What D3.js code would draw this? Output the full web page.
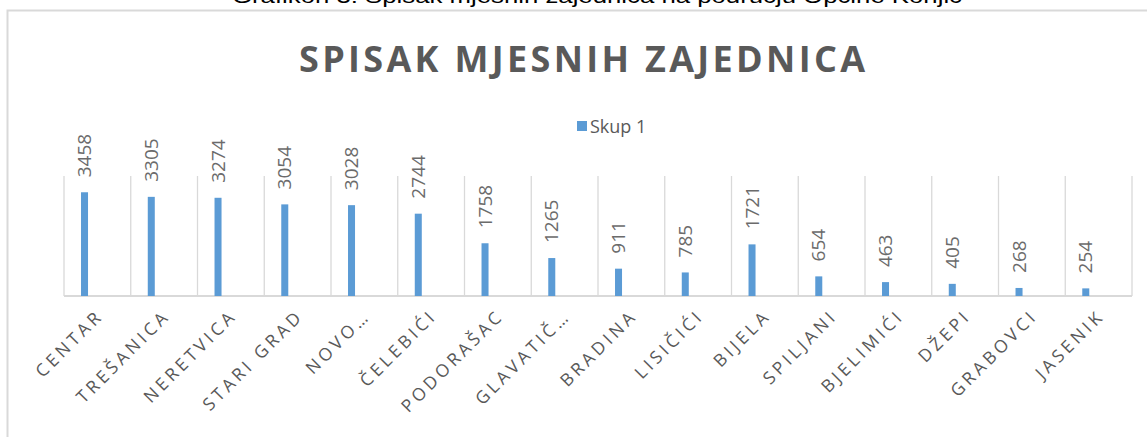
<!DOCTYPE html>
<html>
<head>
<meta charset="utf-8">
<script src="https://cdnjs.cloudflare.com/ajax/libs/d3/7.8.5/d3.min.js"></script>
<style>
  body { margin: 0; background: #fff; }
  svg { display: block; font-family: "Open Sans", sans-serif; }
  .grid { stroke: #d9d9d9; stroke-width: 1.3px; }
  .val { fill: #6b6b6b; font-size: 19px; }
  .cat { fill: #595959; font-size: 17.5px; letter-spacing: 3.6px; }
</style>
</head>
<body>
<script>
// categories (as shown on the axis) and values
var categories = ["CENTAR", "TREŠANICA", "NERETVICA", "STARI GRAD", "NOVO…", "ČELEBIĆI",
                  "PODORAŠAC", "GLAVATIČ…", "BRADINA", "LISIČIĆI", "BIJELA", "SPILJANI",
                  "BJELIMIĆI", "DŽEPI", "GRABOVCI", "JASENIK"];
var skup1 = [3458, 3305, 3274, 3054, 3028, 2744, 1758, 1265, 911, 785, 1721, 654, 463, 405, 268, 254];
var seriesName = "Skup 1";
var yDomain = [0, 4000];

var W = 1147, H = 437;
var svg = d3.select("body").append("svg").attr("width", W).attr("height", H);

// caption above chart (cut off at the top, as in the source)
svg.append("text")
  .attr("x", 597).attr("y", 3)
  .attr("text-anchor", "middle")
  .attr("textLength", 730).attr("lengthAdjust", "spacingAndGlyphs")
  .style("font-family", "'Liberation Sans', sans-serif")
  .style("font-size", "20px").style("fill", "#000")
  .text("Grafikon 3: Spisak mjesnih zajednica na području Općine Konjic");

// chart frame
svg.append("path")
  .attr("d", "M7.5," + H + "V10.5H" + W)
  .attr("fill", "none").attr("stroke", "#d9d9d9").attr("stroke-width", 2);

// title
svg.append("text")
  .attr("x", 582).attr("y", 72)
  .attr("text-anchor", "middle")
  .attr("textLength", 566).attr("lengthAdjust", "spacing")
  .style("font-size", "36px").style("font-weight", "bold").style("fill", "#595959")
  .text("SPISAK MJESNIH ZAJEDNICA");

// legend
var leg = svg.append("g").attr("transform", "translate(577,121)");
leg.append("rect").attr("width", 10).attr("height", 10).attr("fill", "#5b9bd5");
leg.append("text").attr("x", 13).attr("y", 12)
  .style("font-size", "18px").style("fill", "#595959").text(seriesName);

var x = d3.scaleBand().domain(categories).range([64, 1132]);
var y = d3.scaleLinear().domain(yDomain).range([296, 176]);
var bw = x.bandwidth();

// vertical gridlines between categories
var edges = categories.map(function(c) { return x(c); }).concat([x.range()[1]]);
svg.selectAll(".vgrid").data(edges).enter().append("line")
  .attr("class", "grid")
  .attr("x1", function(d) { return d; }).attr("x2", function(d) { return d; })
  .attr("y1", y(yDomain[1])).attr("y2", y(0));

// baseline
svg.append("line").attr("class", "grid")
  .attr("x1", x.range()[0]).attr("x2", x.range()[1])
  .attr("y1", y(0)).attr("y2", y(0)).style("stroke-width", "2px");

var data = categories.map(function(c, i) { return { cat: c, v: skup1[i] }; });

// bars
svg.selectAll(".bar").data(data).enter().append("rect")
  .attr("class", "bar")
  .attr("x", function(d) { return x(d.cat) + bw * 0.255; })
  .attr("width", bw * 0.105)
  .attr("y", function(d) { return y(d.v); })
  .attr("height", function(d) { return y(0) - y(d.v); })
  .attr("fill", "#5b9bd5");

// value labels, rotated
svg.selectAll(".val").data(data).enter().append("text")
  .attr("class", "val")
  .attr("transform", function(d) {
    return "translate(" + (x(d.cat) + bw * 0.308) + "," + (y(d.v) - 15) + ") rotate(-90)";
  })
  .attr("dy", "0.35em")
  .text(function(d) { return d.v; });

// category labels, rotated -45
svg.selectAll(".cat").data(categories).enter().append("text")
  .attr("class", "cat")
  .attr("text-anchor", "end")
  .attr("transform", function(c) {
    return "translate(" + (x(c) + bw / 2 + 7) + ",317) rotate(-45)";
  })
  .text(function(c) { return c; });
</script>
</body>
</html>
